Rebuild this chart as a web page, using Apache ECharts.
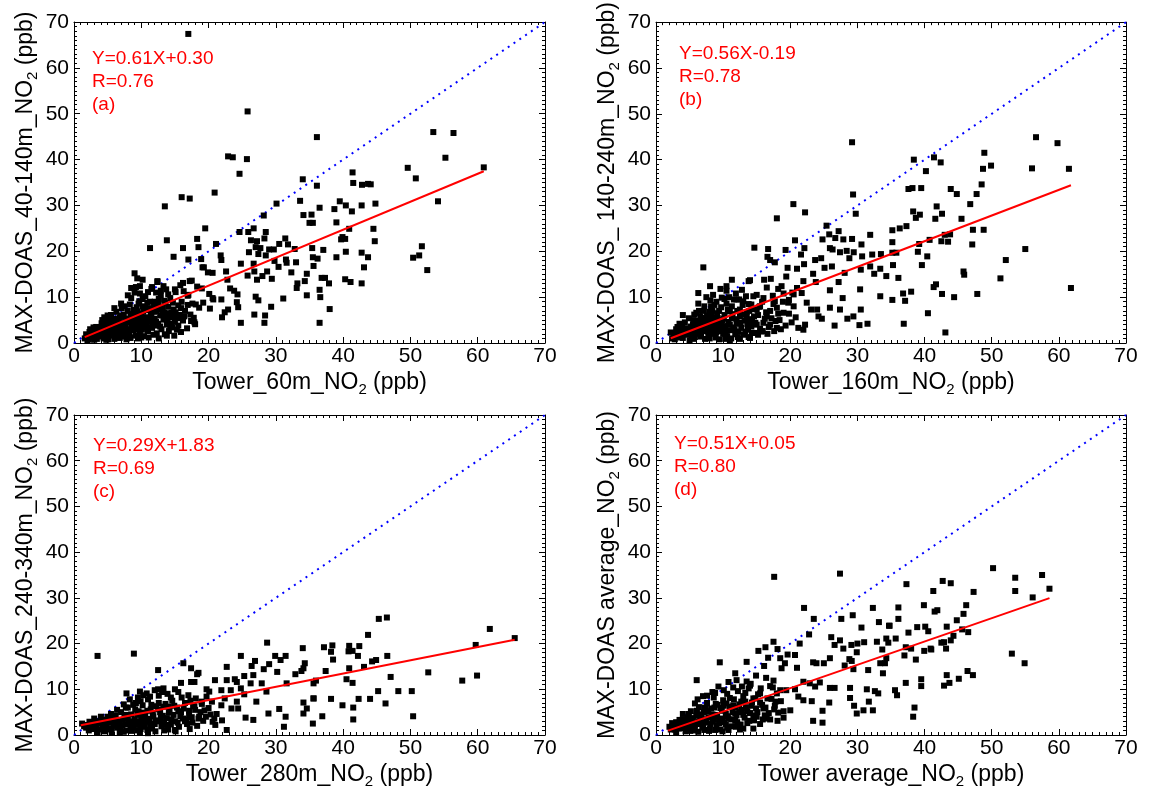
<!DOCTYPE html>
<html lang="en">
<head>
<meta charset="UTF-8">
<title>MAX-DOAS vs Tower NO2</title>
<script src="https://cdn.jsdelivr.net/npm/echarts@6.0.0/dist/echarts.min.js"></script>
<style>
    html, body { margin: 0; padding: 0; background: #fff; }
    #chart { width: 1151px; height: 796px; }
</style>
</head>
<body>
<div id="chart"></div>
<script>
    var FONT = '"Liberation Sans", Arial, sans-serif';

    // axis names (subscript 2 + " (ppb)" added below)
    var xNames = ['Tower_60m_NO', 'Tower_160m_NO', 'Tower_280m_NO', 'Tower average_NO'];
    var yNames = ['MAX-DOAS_40-140m_NO', 'MAX-DOAS_ 140-240m_NO', 'MAX-DOAS_240-340m_NO', 'MAX-DOAS average_NO'];
    var fitText = ['Y=0.61X+0.30', 'Y=0.56X-0.19', 'Y=0.29X+1.83', 'Y=0.51X+0.05'];
    var rText = ['R=0.76', 'R=0.78', 'R=0.69', 'R=0.80'];
    var tags = ['(a)', '(b)', '(c)', '(d)'];

    // regression lines
    var fitSlope = [0.61, 0.56, 0.29, 0.51];
    var fitIntercept = [0.30, -0.19, 1.83, 0.05];
    var fitFrom = [1.6, 2.2, 1.0, 1.8];
    var fitTo = [60.9, 61.8, 65.5, 58.6];

    var axisMin = 0, axisMax = 70, axisStep = 10;

    // (a) tower 60m vs MAX-DOAS 40-140m
    var pointsA = [
        [16.99,67.4],[25.8,50.5],[22.9,40.7],[23.6,40.5],[25.7,40.1],[24.6,36.9],[34.0,35.7],[20.9,32.8],[16.0,31.8],[17.2,31.5],[30.1,30.4],[13.5,29.8],[33.6,31.0],[28.2,27.8],[34.1,27.9],[35.3,28.0],[35.0,26.2],[35.5,26.2],[19.5,25.0],[26.7,25.0],[24.6,24.2],[25.9,24.2],[28.5,24.2],[18.3,22.7],[26.3,22.4],[27.2,22.2],[13.8,22.4],[16.2,20.7],[21.1,21.6],[30.5,21.6],[31.4,22.8],[28.3,22.8],[18.5,20.9],[27.0,20.9],[27.7,20.7],[29.0,20.4],[29.7,20.4],[31.8,21.5],[32.8,20.5],[35.4,20.7],[11.3,20.7],[14.8,18.8],[17.0,18.2],[18.9,18.3],[21.8,19.1],[21.9,18.1],[26.0,19.8],[27.4,19.4],[28.5,19.1],[29.8,17.9],[31.5,18.2],[31.6,17.5],[33.0,17.6],[24.8,17.3],[26.7,17.3],[19.1,16.5],[19.3,16.5],[20.6,15.3],[26.8,15.6],[28.7,15.6],[30.4,16.6],[32.3,15.4],[34.6,15.1],[35.6,16.8],[9.0,15.2],[17.5,13.6],[19.9,15.4],[22.6,15.6],[22.8,13.8],[25.8,14.7],[27.2,13.8],[28.0,14.6],[29.4,14.0],[33.1,12.0],[33.2,13.0],[34.3,13.5],[10.2,13.8],[9.2,12.2],[9.8,12.4],[12.4,13.3],[11.5,11.8],[12.9,11.4],[13.7,11.7],[15.0,11.7],[16.2,13.1],[17.2,13.5],[16.3,11.3],[16.9,10.3],[19.0,11.9],[20.1,10.7],[20.6,9.8],[21.9,9.5],[23.2,11.9],[23.8,11.4],[24.3,10.6],[27.0,10.1],[27.4,9.3],[31.1,9.7],[34.6,10.4],[18.1,8.4],[18.6,7.7],[19.2,8.8],[20.2,7.5],[20.7,9.5],[22.9,7.3],[22.4,6.7],[24.2,8.9],[24.4,7.8],[26.8,6.2],[29.3,7.9],[28.4,6.0],[22.0,5.6],[17.8,5.5],[17.9,4.5],[24.8,4.4],[28.3,4.4],[15.9,2.4],[14.5,6.6],[15.0,5.8],
        [1.6,1.0],[2.0,1.5],[2.2,0.8],[2.5,2.0],[2.8,1.2],[3.0,2.6],[3.2,1.7],[3.4,0.9],[3.6,3.1],[3.8,2.2],[4.0,1.4],[4.1,4.3],[4.3,2.9],[4.5,5.6],[4.6,1.9],[4.8,3.6],[5.0,2.5],[5.1,0.8],[5.2,4.6],[5.4,3.2],[5.5,6.1],[5.7,1.6],[5.8,5.0],[6.0,3.9],[6.1,2.3],[6.3,6.8],[6.4,4.4],[6.5,1.2],[6.7,3.0],[6.8,5.5],[7.0,2.0],[7.1,7.6],[7.2,4.0],[7.4,6.2],[7.5,1.4],[7.6,3.4],[7.8,5.0],[7.9,2.5],[8.0,7.0],[8.2,4.6],[8.3,8.4],[8.4,1.1],[8.5,3.6],[8.7,5.9],[8.8,2.8],[9.0,6.6],[9.1,4.1],[9.2,1.6],[9.3,7.8],[9.5,3.2],[9.6,5.3],[9.7,9.1],[9.8,2.2],[10.0,6.0],[10.1,4.5],[10.2,8.0],[10.4,1.5],[10.5,3.5],[10.6,10.2],[10.7,5.6],[10.9,7.2],[11.0,2.6],[11.2,4.8],[11.3,9.0],[11.5,6.4],[11.6,3.3],[11.8,1.8],[11.9,8.1],[12.0,5.3],[12.2,7.0],[12.3,2.1],[12.5,4.2],[12.6,9.6],[12.8,6.0],[12.9,10.4],[13.0,3.0],[13.2,7.8],[13.3,5.1],[13.5,1.9],[13.6,8.8],[13.8,4.0],[14.0,6.5],[14.1,2.6],[14.3,9.8],[14.5,5.6],[14.6,3.4],[14.8,7.3],[15.0,4.6],[15.1,11.1],[15.3,2.9],[15.5,8.2],[15.7,6.1],[16.0,9.0],[16.2,4.9],[16.5,7.0],[16.8,3.2],[17.0,10.5],[17.3,6.2],[17.6,8.6],[18.0,4.1],[18.3,12.3],[2.3,2.4],[2.6,1.6],[3.3,3.5],[3.9,1.9],[4.4,3.9],[4.9,2.1],[5.3,5.4],[5.6,2.8],[6.2,5.3],[6.6,3.7],[6.9,6.0],[7.3,2.7],[7.7,4.5],[8.1,3.0],[8.6,4.8],[8.9,7.2],[9.4,5.9],[9.9,3.8],[10.3,6.8],[10.8,4.0],[11.4,5.9],[12.1,3.8],[12.7,7.4],[13.4,6.6],[13.9,5.0],[14.4,4.2],[14.9,6.0],[15.4,5.4],[3.0,0.7],[6.0,0.9],[7.8,0.8],[9.5,1.0],[11.1,1.2],[2.9,3.4],[4.7,4.9],[7.0,8.6],[8.5,9.8],[9.8,10.8],[11.6,12.2],[12.4,13.5],[9.4,14.1],[8.5,12.0],
        [1.8,1.9],[2.1,1.1],[2.4,3.0],[2.7,2.3],[3.1,1.3],[3.5,2.4],[3.7,1.6],[4.2,3.4],[4.4,1.0],[4.9,4.2],[5.1,3.0],[5.3,1.9],[5.6,4.0],[5.9,2.6],[6.2,3.5],[6.5,5.0],[6.8,2.4],[7.0,4.3],[7.3,5.7],[7.5,3.0],[7.7,1.9],[8.0,5.3],[8.2,2.2],[8.4,6.3],[8.7,3.4],[8.9,4.9],[9.2,2.9],[9.4,6.9],[9.6,4.5],[9.9,6.4],[10.1,2.9],[10.3,5.2],[10.6,7.8],[10.9,3.3],[11.1,5.0],[11.3,7.6],[11.6,4.4],[11.9,6.8],[12.2,4.6],[12.5,8.4],[12.8,3.6],[13.1,6.1],[13.4,9.2],[13.7,5.5],[14.0,7.9],[14.3,3.7],[14.7,8.8],[15.1,6.7],[15.5,3.8],[15.9,7.6],[16.4,5.8],[16.9,8.3],[17.4,4.8],[8.0,10.4],[9.0,11.0],[10.2,9.6],[11.0,11.1],[12.2,11.0],[13.3,12.4],[14.0,10.6],[15.8,12.6],[6.0,7.6],[7.5,8.0],[4.2,5.0],[5.0,6.0],[9.6,8.6],[10.9,8.8],[12.0,9.0],[2.0,0.6],[4.8,0.7],[6.8,1.1],[8.3,1.4],[10.0,1.2],[12.6,1.0],[13.8,1.6],[14.9,1.6],
        [36.1,44.9],[53.4,46.0],[56.4,45.8],[55.2,40.4],[60.9,38.3],[49.6,38.2],[50.8,35.9],[41.4,37.2],[41.5,34.9],[42.8,34.5],[43.7,34.7],[44.1,34.6],[36.1,34.3],[54.1,30.9],[39.5,30.9],[40.4,30.0],[42.75,30.0],[44.8,30.4],[36.5,29.5],[38.7,29.2],[41.3,28.7],[39.0,26.3],[40.9,24.9],[44.5,24.9],[39.9,23.1],[39.7,22.6],[40.3,22.7],[44.7,22.2],[37.05,20.3],[51.7,21.1],[40.4,19.9],[42.75,19.7],[35.5,18.7],[36.2,18.4],[39.0,18.7],[43.7,18.7],[50.4,18.6],[51.3,19.1],[43.1,16.5],[52.5,15.9],[36.8,14.2],[37.3,14.2],[40.3,13.9],[41.1,13.3],[37.9,13.0],[42.75,13.0],[36.5,11.6],[36.6,10.0],[38.0,7.4],[36.5,4.4]
    ];

    // (b) tower 160m vs MAX-DOAS 140-240m
    var pointsB = [
        [29.2,43.8],[20.46,30.3],[22.2,28.5],[18.0,27.2],[29.35,32.4],[29.75,28.2],[7.05,16.5],[14.65,20.8],[20.7,22.4],[16.7,20.5],[16.6,18.8],[17.0,18.1],[17.7,17.6],[19.3,20.3],[21.6,19.3],[22.1,20.7],[25.4,25.6],[25.8,23.7],[27.2,24.4],[26.7,22.9],[24.8,22.6],[27.9,22.6],[29.2,22.7],[30.6,21.5],[31.9,23.6],[25.9,20.7],[26.3,20.4],[27.4,19.8],[28.4,20.1],[28.8,18.5],[29.45,19.8],[30.7,18.9],[32.2,19.3],[33.5,19.4],[23.7,18.1],[24.6,18.5],[22.05,17.2],[19.6,16.4],[21.0,16.2],[23.4,15.1],[25.1,16.4],[26.2,16.7],[28.1,15.3],[30.5,16.0],[31.9,16.7],[33.4,16.2],[34.3,14.6],[32.5,15.1],[11.3,13.8],[8.05,12.4],[6.3,10.9],[10.5,11.4],[13.8,13.5],[14.0,13.7],[16.1,13.8],[17.1,14.0],[18.7,12.4],[21.95,13.5],[23.8,13.3],[25.9,11.5],[27.2,13.3],[27.8,9.8],[30.4,11.7],[33.4,10.2],[25.9,7.7],[27.4,7.3],[29.4,5.8],[30.5,7.3],[30.3,3.9],[31.5,4.2],[26.6,3.8],[28.5,5.3],[24.0,7.3],[24.2,5.8],[24.7,5.3],[23.1,7.3],[22.2,4.0],[21.95,2.9],[21.2,3.3],[20.8,5.6],[20.5,8.0],[19.7,8.8],[22.45,8.8],[21.7,10.9],[20.5,10.6],[21.0,12.0],[19.0,10.8],[17.7,9.1],[18.2,6.4],[18.0,3.3],[17.0,4.0],[15.9,2.6],[14.9,2.2],[14.0,1.1],[16.5,5.8],[15.5,8.0],[14.5,10.2],[15.0,7.3],[14.3,4.6],[13.5,5.8],[12.5,7.3],[12.0,9.5],[13.0,9.1],
        [2.2,2.3],[2.6,1.5],[3.0,3.0],[3.3,2.0],[3.6,1.2],[3.9,3.6],[4.1,2.5],[4.3,4.5],[4.5,1.8],[4.7,3.2],[4.9,5.4],[5.1,2.7],[5.3,1.5],[5.5,4.1],[5.7,6.2],[5.9,3.0],[6.0,2.0],[6.2,4.8],[6.4,7.0],[6.5,3.6],[6.7,1.4],[6.9,5.5],[7.0,2.6],[7.2,8.0],[7.3,4.2],[7.5,3.1],[7.6,6.0],[7.8,1.8],[8.0,4.8],[8.1,9.3],[8.3,2.9],[8.4,7.0],[8.6,3.8],[8.8,5.6],[8.9,1.2],[9.0,2.4],[9.1,6.5],[9.3,4.3],[9.4,0.8],[9.6,3.2],[9.7,7.8],[9.9,5.0],[10.0,2.0],[10.2,6.1],[10.3,3.7],[10.5,8.6],[10.6,1.5],[10.8,4.6],[11.0,6.9],[11.1,2.8],[11.3,5.4],[11.5,3.4],[11.6,9.5],[11.8,1.9],[12.0,4.2],[12.1,7.0],[12.3,2.5],[12.5,5.8],[12.7,3.3],[12.9,8.3],[13.1,1.8],[13.2,4.9],[13.5,6.7],[13.7,2.9],[14.0,5.2],[14.2,3.6],[14.5,7.4],[14.8,4.4],[15.2,6.1],[15.5,3.1],[15.8,9.0],[16.2,5.3],[16.6,2.0],[17.0,7.0],[17.4,10.3],[17.8,4.8],[18.2,11.8],[18.6,3.0],[19.0,6.6],[19.4,14.5],[19.8,9.4],[20.2,4.5],[8.5,10.5],[9.6,11.8],[10.5,12.4],[7.5,10.0],[6.3,8.6],[11.9,10.8],[12.8,11.6],[3.5,4.2],[2.8,0.8],[5.0,0.6],[7.3,0.9],[12.5,0.9],[11.0,0.5],[9.0,9.0],[13.8,8.5],[15.0,10.5],[16.5,12.1],[17.5,8.5],[5.6,5.0],[6.6,5.8],[7.9,6.8],[8.7,8.3],[9.8,9.9],[10.9,10.0],[4.0,6.1],
        [2.4,1.0],[2.9,2.0],[3.2,3.5],[3.7,2.4],[4.0,1.1],[4.4,3.1],[4.8,2.1],[5.2,3.6],[5.4,2.4],[5.8,1.3],[6.1,3.9],[6.3,2.6],[6.8,4.4],[7.1,3.4],[7.4,5.1],[7.7,2.5],[7.9,4.0],[8.2,5.9],[8.5,2.0],[8.7,4.6],[9.0,3.3],[9.2,5.4],[9.5,2.6],[9.7,4.0],[10.1,5.3],[10.4,2.6],[10.7,7.3],[11.0,4.0],[11.2,1.0],[11.4,6.3],[11.7,3.0],[12.0,5.2],[12.2,1.3],[12.6,4.4],[12.9,6.2],[13.3,2.5],[13.6,4.1],[13.9,7.0],[14.3,2.2],[14.6,5.8],[15.0,4.0],[15.4,7.9],[15.7,2.5],[16.0,4.4],[16.4,6.7],[16.8,3.5],[17.2,5.4],[17.6,2.6],[18.0,7.7],[18.4,5.0],[18.9,9.0],[19.3,3.8],[19.8,6.4],[20.3,11.0],[6.0,6.6],[7.0,7.0],[8.2,8.0],[9.4,7.0],[10.2,9.6],[11.3,8.0],[12.4,9.5],[13.4,10.2],[14.2,8.4],[16.0,9.8],[3.0,1.4],[5.6,0.9],[8.0,1.0],[10.3,0.9],[13.8,1.3],[15.2,1.8],
        [56.6,44.9],[59.8,43.6],[48.9,41.5],[38.4,40.0],[41.4,40.5],[42.4,39.4],[49.9,38.7],[40.2,37.5],[48.7,38.0],[56.0,38.1],[61.5,38.0],[37.6,33.6],[38.2,33.8],[39.5,33.8],[43.9,33.6],[44.8,32.5],[48.5,34.6],[47.75,32.5],[46.8,30.3],[41.8,29.8],[38.3,28.7],[39.3,28.0],[38.7,27.3],[41.6,27.1],[42.6,28.2],[45.5,27.1],[37.3,25.5],[36.3,25.0],[35.2,24.6],[47.2,24.7],[48.8,24.7],[43.0,23.6],[43.8,23.7],[42.5,22.2],[43.5,22.1],[40.75,22.5],[35.2,22.0],[39.2,21.6],[47.1,21.5],[35.2,19.7],[35.8,19.7],[39.0,19.9],[40.4,18.9],[55.0,20.5],[35.3,17.0],[39.6,17.0],[52.1,18.1],[36.1,14.2],[45.8,15.6],[45.9,14.9],[51.3,14.1],[41.7,12.8],[41.35,12.2],[61.8,12.0],[36.8,10.8],[38.0,11.2],[42.6,10.7],[47.85,10.7],[35.2,9.4],[37.1,9.2],[44.4,10.0],[40.5,6.5],[36.9,4.2],[43.1,2.3]
    ];

    // (c) tower 280m vs MAX-DOAS 240-340m
    var pointsC = [
        [3.5,17.3],[8.9,17.8],[28.7,20.2],[34.0,19.0],[24.8,17.3],[29.9,17.3],[30.7,16.4],[31.45,17.3],[29.0,15.5],[28.2,14.4],[26.9,16.2],[26.4,15.1],[30.2,13.8],[32.9,13.3],[33.8,14.0],[34.1,14.6],[34.3,15.7],[22.7,14.9],[18.3,13.3],[12.5,14.2],[16.25,15.7],[17.4,14.6],[18.5,13.6],[15.9,11.4],[17.4,11.6],[17.9,11.6],[20.95,12.0],[22.7,12.0],[23.9,12.2],[24.2,11.6],[25.3,12.9],[26.65,13.1],[27.9,11.3],[31.6,11.3],[26.25,11.3],[24.8,10.2],[7.8,9.1],[9.8,9.5],[10.3,8.7],[12.5,10.0],[13.3,10.2],[15.0,10.0],[19.7,10.0],[20.1,9.5],[21.9,9.8],[23.3,9.8],[25.3,8.9],[27.1,7.3],[28.6,9.5],[35.6,8.0],[34.1,7.1],[34.6,5.8],[30.5,5.7],[28.9,4.7],[31.45,4.0],[34.1,4.7],[31.2,1.8],[25.5,3.8],[26.65,3.3],[22.7,1.1],[20.85,3.6],[21.9,6.5],[23.4,5.8],[22.4,8.0],[24.2,7.3],[24.4,5.8],[20.5,7.3],[19.4,5.4],[18.6,4.0],[17.2,1.3],[16.5,3.0],[15.0,1.1],[18.1,8.0],[17.0,8.7],[17.7,6.5],[18.95,7.3],[19.7,8.4],
        [1.2,2.5],[1.8,1.6],[2.3,2.9],[2.7,1.3],[3.1,2.2],[3.5,0.6],[3.8,3.0],[4.2,1.8],[4.6,2.6],[5.0,1.2],[5.3,3.4],[5.6,0.5],[5.9,2.3],[6.2,4.2],[6.4,1.6],[6.7,3.0],[7.0,5.0],[7.2,2.0],[7.5,3.8],[7.8,1.0],[8.0,6.0],[8.2,2.8],[8.5,4.5],[8.8,1.6],[9.0,3.4],[9.2,7.0],[9.4,2.2],[9.6,5.2],[9.8,0.6],[10.0,3.9],[10.2,6.5],[10.4,1.8],[10.6,4.6],[10.8,2.9],[11.0,7.8],[11.2,3.5],[11.4,5.6],[11.6,1.4],[11.8,4.1],[12.0,2.4],[12.2,6.3],[12.4,3.2],[12.6,8.6],[12.8,5.0],[13.0,1.9],[13.2,4.2],[13.4,2.8],[13.6,6.8],[13.8,3.7],[14.0,1.2],[14.2,5.4],[14.4,2.3],[14.6,7.5],[14.8,4.4],[15.0,3.0],[15.3,6.0],[15.6,1.8],[15.9,4.9],[16.2,3.6],[16.5,7.0],[16.8,2.4],[17.1,5.3],[17.5,3.9],[17.9,6.3],[18.3,2.0],[18.8,5.0],[19.2,3.1],[6.8,0.6],[8.6,0.9],[9.9,1.3],[12.1,0.8],[11.0,0.4],[13.9,9.0],[9.5,8.2],[8.3,7.8],[7.4,6.7],[10.8,9.1],[12.0,9.8],[5.5,4.6],[4.0,4.0],[3.0,3.6],[6.0,3.2],[7.8,4.4],[9.1,5.6],[10.1,4.9],[11.5,6.6],[12.9,3.0],[14.1,6.2],[15.5,5.2],[16.0,8.2],[17.3,7.5],[20.3,4.5],[21.0,2.2],
        [1.5,1.9],[2.0,2.2],[2.5,1.8],[2.9,2.8],[3.3,1.5],[3.6,2.6],[4.0,1.2],[4.4,3.4],[4.8,1.9],[5.1,2.8],[5.5,1.5],[5.8,3.6],[6.1,2.0],[6.5,2.8],[6.9,1.6],[7.2,3.3],[7.6,2.4],[8.0,3.7],[8.4,1.8],[8.7,3.0],[9.1,2.4],[9.4,4.4],[9.7,3.0],[10.1,2.4],[10.5,3.5],[10.9,5.3],[11.3,2.4],[11.7,4.7],[12.1,3.0],[12.5,5.6],[12.9,4.0],[13.3,6.2],[13.7,2.2],[14.1,4.9],[14.5,3.4],[14.9,6.4],[15.4,2.7],[15.8,4.1],[16.3,5.8],[16.7,3.3],[17.1,4.4],[17.6,2.7],[18.0,5.5],[18.5,3.6],[19.0,6.8],[19.6,4.0],[20.0,5.9],[20.6,2.9],[21.2,4.6],[22.0,3.2],[7.7,6.0],[8.8,6.6],[9.9,7.4],[11.3,8.4],[12.6,7.0],[13.1,9.4],[14.4,8.2],[15.5,9.4],[6.4,5.5],[5.0,4.0],[2.2,1.0],[4.5,0.8],[7.4,0.7],[9.4,1.0],[10.9,1.1],[13.4,1.0],[15.1,0.8],
        [45.3,25.4],[46.5,25.7],[61.8,23.2],[43.7,21.9],[65.5,21.2],[37.15,19.2],[38.4,19.6],[40.9,19.5],[42.4,19.45],[59.7,19.7],[38.2,18.2],[40.8,18.3],[41.4,18.4],[42.2,17.3],[46.56,17.3],[38.5,16.5],[44.3,16.1],[44.9,16.4],[43.1,14.9],[40.9,14.6],[37.4,14.0],[52.65,13.7],[47.06,12.7],[59.9,13.0],[57.7,11.9],[40.5,12.2],[41.4,11.4],[35.6,11.3],[35.96,11.9],[45.2,9.6],[48.2,9.6],[50.2,9.6],[35.6,8.0],[38.2,7.9],[42.3,7.9],[44.0,7.9],[39.9,6.5],[46.3,6.9],[41.5,6.0],[36.9,4.1],[41.5,3.4],[50.4,4.1],[35.5,2.5]
    ];

    // (d) tower average vs MAX-DOAS average
    var pointsD = [
        [17.6,34.6],[27.4,35.3],[22.05,27.8],[23.5,25.4],[27.6,25.4],[29.3,26.2],[32.3,27.8],[33.2,24.7],[34.7,23.9],[30.6,23.5],[9.5,15.9],[6.06,12.0],[13.5,16.0],[11.8,13.5],[15.25,18.4],[16.3,19.2],[17.5,20.4],[21.4,20.0],[22.8,22.0],[26.1,21.4],[27.4,20.7],[27.9,18.9],[26.6,19.7],[29.1,19.7],[30.0,20.0],[31.0,20.3],[32.9,20.4],[34.6,20.2],[29.9,18.1],[33.7,18.7],[28.8,16.6],[29.15,16.2],[19.6,17.6],[20.7,17.5],[18.1,18.8],[18.5,16.8],[19.2,15.7],[16.7,16.9],[16.1,15.1],[18.7,14.6],[21.0,14.7],[23.4,15.9],[23.9,15.7],[25.0,15.7],[25.9,16.8],[28.1,15.2],[29.4,14.4],[31.6,14.2],[33.4,15.7],[34.1,15.7],[33.8,13.5],[16.4,12.5],[17.5,11.9],[14.9,13.0],[13.5,11.7],[14.0,10.8],[17.0,10.7],[18.5,9.8],[19.4,9.8],[20.7,10.0],[21.95,11.65],[22.9,11.3],[23.7,10.6],[24.4,11.5],[25.9,10.3],[26.6,10.3],[28.9,10.3],[31.4,10.0],[32.6,9.6],[33.1,9.1],[21.2,8.4],[21.95,7.6],[23.2,7.4],[25.8,7.1],[28.9,8.1],[31.7,7.3],[29.5,6.4],[29.9,4.7],[30.9,5.4],[32.3,5.4],[24.8,5.3],[23.4,3.1],[24.8,2.7],[20.0,5.4],[19.0,3.8],[19.0,5.2],[17.7,6.4],[16.5,3.6],[16.0,5.8],[15.0,4.0],[14.5,1.4],[13.0,1.4],[11.9,1.8],[10.8,1.1],[18.0,9.1],[15.5,9.1],[14.5,8.0],[13.0,7.3],
        [2.0,1.8],[2.4,2.6],[2.8,1.2],[3.2,2.1],[3.5,3.3],[3.8,1.5],[4.1,2.6],[4.4,0.8],[4.7,3.8],[5.0,1.9],[5.2,5.2],[5.4,2.9],[5.7,1.0],[6.0,4.2],[6.2,2.4],[6.4,6.1],[6.6,3.3],[6.9,1.6],[7.1,5.0],[7.3,2.7],[7.6,7.0],[7.8,3.9],[8.0,1.3],[8.2,5.8],[8.4,2.9],[8.6,8.2],[8.8,4.4],[9.0,2.1],[9.2,6.6],[9.4,3.5],[9.6,1.2],[9.8,5.3],[10.0,7.6],[10.2,2.8],[10.4,4.6],[10.6,9.0],[10.8,3.6],[11.0,6.2],[11.2,1.9],[11.4,5.0],[11.6,7.8],[11.8,3.1],[12.0,4.3],[12.2,9.6],[12.4,6.7],[12.6,2.3],[12.8,5.5],[13.0,8.5],[13.2,3.8],[13.4,6.0],[13.6,2.6],[13.8,10.2],[14.0,4.8],[14.3,7.1],[14.6,3.2],[14.9,5.8],[15.2,8.9],[15.5,2.4],[15.8,6.6],[16.2,4.3],[16.6,8.0],[17.0,3.4],[17.4,10.4],[17.8,7.3],[18.2,4.9],[3.0,0.6],[6.3,0.7],[7.9,0.9],[9.9,0.8],[5.8,6.9],[7.0,8.5],[8.4,9.4],[9.3,10.6],[10.8,11.6],[12.0,12.0],[4.0,4.6],[6.8,4.5],[8.7,6.0],[10.5,6.9],[11.9,6.0],[13.3,7.3],
        [2.2,1.2],[2.6,2.0],[3.0,2.8],[3.4,1.4],[3.6,2.4],[4.0,3.4],[4.3,1.8],[4.6,2.9],[4.9,4.6],[5.1,2.5],[5.5,3.7],[5.8,2.0],[6.1,5.3],[6.4,2.9],[6.7,4.0],[7.0,2.2],[7.3,6.0],[7.5,3.4],[7.8,5.2],[8.1,2.4],[8.4,4.5],[8.6,3.3],[8.9,6.8],[9.1,4.0],[9.4,2.6],[9.6,5.9],[9.9,3.6],[10.1,6.4],[10.4,2.3],[10.7,4.1],[11.0,8.1],[11.2,3.4],[11.5,6.5],[11.8,4.7],[12.1,2.8],[12.4,5.0],[12.7,7.3],[13.0,4.4],[13.3,9.2],[13.6,5.2],[13.9,3.1],[14.2,6.4],[14.5,4.3],[14.8,8.0],[15.1,5.0],[15.5,7.1],[15.9,3.4],[16.3,6.0],[16.8,4.8],[17.2,7.9],[17.6,5.6],[18.1,3.1],[18.6,7.4],[6.2,7.8],[7.6,8.6],[8.8,9.2],[10.1,9.8],[11.5,10.4],[12.8,10.6],[14.1,11.2],[15.6,10.2],[5.1,0.9],[7.2,1.1],[8.8,1.1],[10.6,1.6],[12.5,1.2],
        [50.2,36.5],[53.5,34.4],[57.5,35.0],[37.3,33.0],[42.7,33.7],[43.9,33.2],[41.3,31.5],[47.3,31.3],[53.5,31.5],[58.6,32.0],[56.1,30.1],[36.1,27.9],[39.9,28.4],[46.2,28.4],[41.5,27.0],[41.9,27.3],[45.8,26.5],[36.1,25.4],[44.8,25.1],[34.8,23.9],[38.9,23.6],[40.1,23.7],[43.3,23.7],[40.55,22.7],[45.6,23.1],[46.5,22.5],[37.6,22.4],[44.3,21.7],[34.3,21.1],[35.7,21.1],[42.5,20.2],[42.9,20.3],[43.9,20.7],[37.2,19.2],[38.0,18.9],[40.9,18.9],[41.0,18.7],[43.2,18.9],[39.95,18.4],[53.0,17.8],[37.0,17.4],[34.3,16.8],[38.7,16.5],[54.9,15.7],[46.4,14.0],[43.3,13.1],[47.2,13.1],[39.5,12.2],[45.1,12.3],[37.2,11.4],[39.5,10.7],[42.9,10.8],[43.7,11.4],[35.6,9.8],[35.9,8.7],[38.5,6.0],[38.3,4.0]
    ];

    var allPoints = [pointsA, pointsB, pointsC, pointsD];

    var grids = [
        {left: 74, top: 22, width: 471, height: 321},
        {left: 656, top: 22, width: 470, height: 321},
        {left: 74, top: 415, width: 471, height: 320},
        {left: 656, top: 415, width: 470, height: 320}
    ];
    var notePos = [[92, 47], [679, 42], [93, 434], [674, 432]];

    function makeAxis(gi, pos, title) {
        var main = pos === 'bottom' || pos === 'left';
        var ax = {
            type: 'value',
            gridIndex: gi,
            position: pos,
            min: axisMin,
            max: axisMax,
            interval: axisStep,
            axisLine: {show: true, onZero: false, lineStyle: {color: '#000', width: 1}},
            axisTick: {show: true, inside: true, length: 6, lineStyle: {color: '#000', width: 1}},
            minorTick: {show: true, splitNumber: 10, length: 3, lineStyle: {color: '#000', width: 1}},
            splitLine: {show: false},
            axisLabel: {
                show: main,
                color: '#000',
                fontSize: 21,
                fontFamily: FONT,
                margin: pos === 'bottom' ? 3 : 5
            }
        };
        if (main) {
            ax.name = '{n|' + title + '}{s|2}{n| (ppb)}';
            ax.nameLocation = 'middle';
            ax.nameGap = pos === 'bottom' ? 26 : 34;
            ax.nameTextStyle = {
                rich: {
                    n: {fontSize: 23, fontFamily: FONT, color: '#000', lineHeight: 28},
                    s: {fontSize: 15, fontFamily: FONT, color: '#000', lineHeight: 14, verticalAlign: 'bottom'}
                }
            };
        }
        return ax;
    }

    var option = {
        backgroundColor: '#fff',
        animation: false,
        grid: [],
        xAxis: [],
        yAxis: [],
        series: [],
        graphic: []
    };

    grids.forEach(function (g, i) {
        option.grid.push(g);
        option.xAxis.push(makeAxis(i, 'bottom', xNames[i]));
        option.xAxis.push(makeAxis(i, 'top'));
        option.yAxis.push(makeAxis(i, 'left', yNames[i]));
        option.yAxis.push(makeAxis(i, 'right'));
        var ai = i * 2;

        // 1:1 line
        option.series.push({
            type: 'line',
            xAxisIndex: ai,
            yAxisIndex: ai,
            data: [[axisMin, axisMin], [axisMax, axisMax]],
            symbol: 'none',
            silent: true,
            lineStyle: {color: '#0000ff', width: 2, type: [2, 5]},
            z: 1
        });
        option.series.push({
            type: 'scatter',
            xAxisIndex: ai,
            yAxisIndex: ai,
            data: allPoints[i],
            symbol: 'rect',
            symbolSize: 6,
            itemStyle: {color: '#000', opacity: 1},
            z: 2
        });
        // regression line
        option.series.push({
            type: 'line',
            xAxisIndex: ai,
            yAxisIndex: ai,
            data: [
                [fitFrom[i], fitSlope[i] * fitFrom[i] + fitIntercept[i]],
                [fitTo[i], fitSlope[i] * fitTo[i] + fitIntercept[i]]
            ],
            symbol: 'none',
            silent: true,
            lineStyle: {color: '#ff0000', width: 2},
            z: 3
        });
        option.graphic.push({
            type: 'text',
            left: notePos[i][0],
            top: notePos[i][1],
            z: 10,
            style: {
                text: fitText[i] + '\n' + rText[i] + '\n' + tags[i],
                fill: '#ff0000',
                fontSize: 19,
                fontFamily: FONT,
                lineHeight: 23
            }
        });
    });

    var myChart = echarts.init(document.getElementById('chart'));
    myChart.setOption(option);
</script>
</body>
</html>
